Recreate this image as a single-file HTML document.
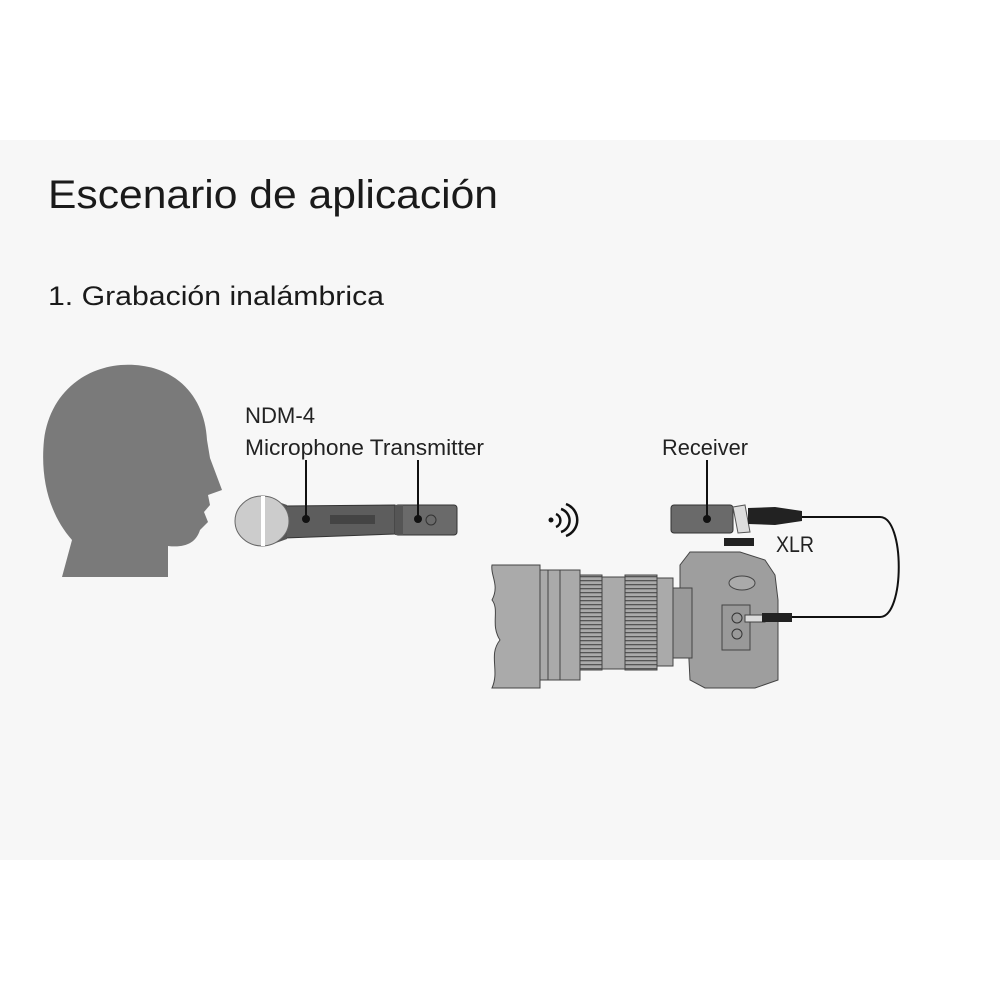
<!DOCTYPE html>
<html><head><meta charset="utf-8"><style>
html,body{margin:0;padding:0;background:#fff;}
svg{display:block;}
</style></head><body>
<svg width="1000" height="1000" viewBox="0 0 1000 1000" xmlns="http://www.w3.org/2000/svg" font-family="Liberation Sans, sans-serif">
<defs>
<pattern id="rid" width="4" height="4" patternUnits="userSpaceOnUse"><rect width="4" height="4" fill="#aaa"/><rect y="0" width="4" height="1.3" fill="#555"/></pattern>
</defs>
<rect x="0" y="0" width="1000" height="1000" fill="#fff"/>
<rect x="0" y="140" width="1000" height="720" fill="#f7f7f7"/>
<text x="48" y="208" font-size="40" fill="#1a1a1a" textLength="450" lengthAdjust="spacingAndGlyphs">Escenario de aplicación</text>
<text x="48" y="305" font-size="27" fill="#1a1a1a" textLength="336" lengthAdjust="spacingAndGlyphs">1. Grabación inalámbrica</text>

<!-- head -->
<path d="M62,577 L72,540 C50,515 40,480 44,440 C50,390 90,362 135,365 C180,368 205,400 207,440 L210,458 L222,490 L208,495 L210,505 L204,512 L208,522 L200,530 C196,543 185,548 168,546 L168,577 Z" fill="#7a7a7a"/>

<!-- labels -->
<text x="245" y="423" font-size="22" fill="#222" textLength="70" lengthAdjust="spacingAndGlyphs">NDM-4</text>
<text x="245" y="455" font-size="22" fill="#222" textLength="239" lengthAdjust="spacingAndGlyphs">Microphone Transmitter</text>
<text x="662" y="455" font-size="22" fill="#222" textLength="86" lengthAdjust="spacingAndGlyphs">Receiver</text>
<text x="776" y="552" font-size="22" fill="#222" textLength="38" lengthAdjust="spacingAndGlyphs">XLR</text>

<!-- microphone -->
<path d="M285,506 L395,505 L395,534 L285,538 Z" fill="#5d5d5d" stroke="#333" stroke-width="1"/>
<rect x="330" y="515" width="45" height="9" fill="#444"/>
<rect x="395" y="505" width="62" height="30" rx="3" fill="#6a6a6a" stroke="#333"/>
<rect x="395" y="505" width="8" height="30" fill="#555"/>
<circle cx="431" cy="520" r="5" fill="none" stroke="#333"/>
<path d="M270,499 L287,505 L287,539 L270,545 Z" fill="#555"/>
<ellipse cx="262" cy="521" rx="27" ry="25" fill="#ccc" stroke="#666"/>
<rect x="261" y="496" width="4" height="50" fill="#fff"/>
<line x1="306" y1="460" x2="306" y2="518" stroke="#111" stroke-width="2"/>
<circle cx="306" cy="519" r="4" fill="#111"/>
<line x1="418" y1="460" x2="418" y2="518" stroke="#111" stroke-width="2"/>
<circle cx="418" cy="519" r="4" fill="#111"/>

<!-- wifi -->
<circle cx="551" cy="520" r="2.5" fill="#111"/>
<path d="M556,514 A7,7 0 0 1 556,527" fill="none" stroke="#111" stroke-width="2.5"/>
<path d="M561,509 A12,12 0 0 1 561,532" fill="none" stroke="#111" stroke-width="2.5"/>
<path d="M566,504 A17,17 0 0 1 566,536" fill="none" stroke="#111" stroke-width="2.5"/>

<!-- receiver -->
<rect x="671" y="505" width="62" height="28" rx="3" fill="#6a6a6a" stroke="#333"/>
<line x1="707" y1="460" x2="707" y2="518" stroke="#111" stroke-width="2"/>
<circle cx="707" cy="519" r="4" fill="#111"/>
<path d="M733,507 L745,505 L750,532 L738,533 Z" fill="#ddd" stroke="#555"/>
<rect x="724" y="538" width="30" height="8" fill="#222"/>
<path d="M748,508 L775,507 L802,511 L802,521 L775,525 L748,524 Z" fill="#222"/>
<path d="M802,517 L880,517 C905,517 905,617 880,617 L790,617" fill="none" stroke="#111" stroke-width="2"/>

<!-- camera body -->
<path d="M680,565 L690,552 L740,552 L765,560 L775,575 L778,600 L778,680 L755,688 L705,688 L690,680 L688,640 L680,620 Z" fill="#9e9e9e" stroke="#444"/>
<ellipse cx="742" cy="583" rx="13" ry="7" fill="#aaa" stroke="#444"/>
<path d="M722,605 L750,605 L750,650 L722,650 Z" fill="#999" stroke="#444"/>
<circle cx="737" cy="618" r="5" fill="none" stroke="#333"/>
<circle cx="737" cy="634" r="5" fill="none" stroke="#333"/>
<rect x="745" y="615" width="20" height="7" fill="#ddd" stroke="#444"/>
<rect x="762" y="613" width="30" height="9" fill="#222"/>

<!-- lens -->
<rect x="670" y="588" width="22" height="70" fill="#999" stroke="#444"/>
<rect x="655" y="578" width="18" height="88" fill="#aaa" stroke="#444"/>
<rect x="625" y="575" width="32" height="95" fill="url(#rid)" stroke="#444"/>
<rect x="600" y="577" width="25" height="92" fill="#aaa" stroke="#444"/>
<rect x="580" y="575" width="22" height="95" fill="url(#rid)" stroke="#444"/>
<rect x="540" y="570" width="40" height="110" fill="#aaa" stroke="#444"/>
<line x1="548" y1="570" x2="548" y2="680" stroke="#444"/>
<line x1="560" y1="570" x2="560" y2="680" stroke="#444"/>
<path d="M492,565 L540,565 L540,688 L492,688 C500,670 488,655 500,640 C490,625 500,610 492,600 C500,585 490,575 492,565 Z" fill="#aaa" stroke="#444"/>
</svg>
</body></html>
